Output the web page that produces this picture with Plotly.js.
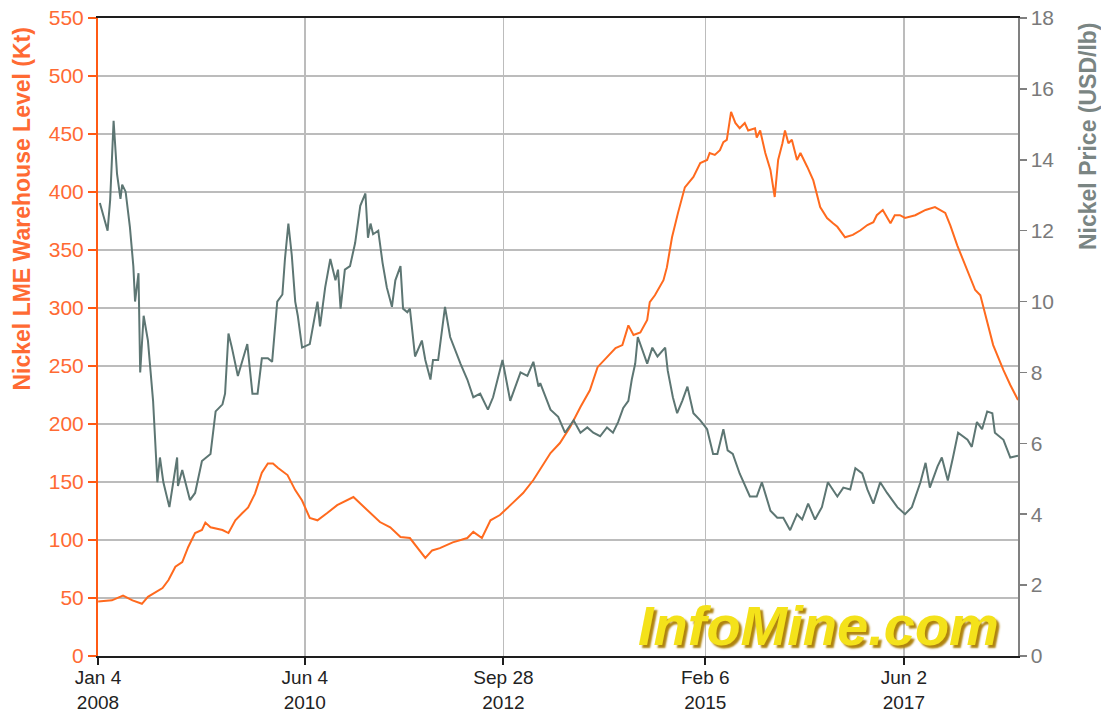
<!DOCTYPE html>
<html>
<head>
<meta charset="utf-8">
<script src="https://cdn.plot.ly/plotly-3.0.1.min.js"></script>
<style>html,body{margin:0;padding:0;background:#fff;}#chart{width:1101px;height:719px;}</style>
</head>
<body>
<div id="chart"></div>
<script>
// Nickel LME warehouse level (Kt) — time in decimal years
const stockYear = [2008.01,2008.17,2008.30,2008.41,2008.52,2008.59,2008.76,2008.83,2008.91,2008.99,2009.06,2009.14,2009.22,2009.26,2009.32,2009.46,2009.53,2009.61,2009.69,2009.76,2009.84,2009.92,2009.99,2010.05,2010.11,2010.22,2010.31,2010.39,2010.48,2010.57,2010.68,2010.80,2010.99,2011.05,2011.15,2011.30,2011.42,2011.54,2011.65,2011.73,2011.83,2011.91,2012.00,2012.15,2012.32,2012.39,2012.49,2012.59,2012.70,2012.85,2012.97,2013.09,2013.29,2013.40,2013.52,2013.64,2013.75,2013.84,2013.95,2014.05,2014.13,2014.20,2014.26,2014.34,2014.42,2014.45,2014.51,2014.61,2014.65,2014.71,2014.78,2014.86,2014.96,2015.04,2015.12,2015.15,2015.21,2015.27,2015.31,2015.35,2015.40,2015.45,2015.50,2015.56,2015.60,2015.68,2015.70,2015.74,2015.80,2015.86,2015.91,2015.95,2016.00,2016.03,2016.07,2016.11,2016.17,2016.21,2016.29,2016.36,2016.44,2016.52,2016.59,2016.64,2016.73,2016.82,2016.91,2016.99,2017.06,2017.10,2017.17,2017.26,2017.31,2017.37,2017.43,2017.55,2017.67,2017.78,2017.90,2017.96,2018.04,2018.13,2018.25,2018.31,2018.37,2018.46,2018.58,2018.66,2018.75];
const stockKt = [47,48,52,48,45,51,58.6,65.5,77,81,94,106,108.6,115,111,108.6,106,117,123,128,140,158,166,166,162,156,143,134,119,117,123,130,137,133,126,115.5,111,102.6,101.7,94,84.5,91,93,98,101.7,107,101.7,117,121.5,132,140.5,151.7,175,183.6,197.4,214.6,229,249,258,265.5,268,285,276.7,279,289.7,305,311,324,335,361,382,404,413,425,427.6,433.6,432,436,443,445,469,459.5,455,459.5,453,455,447,453,433.6,419,395.7,427.6,442,453,442,445,427.6,433.6,421.6,410,387,377.6,373,370,361,363,367,371.5,374,380,384.5,373,380,380,377.6,380,384.5,387,382,371,354,337,315.5,311,294,268,246.5,233.6,220.7];

// Nickel price (USD/lb) — time in decimal years
const priceYear = [2008.03,2008.12,2008.15,2008.19,2008.23,2008.27,2008.29,2008.33,2008.38,2008.42,2008.44,2008.48,2008.50,2008.54,2008.59,2008.65,2008.70,2008.73,2008.77,2008.84,2008.93,2008.94,2008.99,2009.08,2009.14,2009.22,2009.32,2009.38,2009.46,2009.49,2009.53,2009.57,2009.64,2009.75,2009.81,2009.87,2009.92,2009.99,2010.04,2010.10,2010.16,2010.19,2010.23,2010.27,2010.31,2010.34,2010.39,2010.48,2010.57,2010.60,2010.66,2010.72,2010.78,2010.81,2010.84,2010.89,2010.95,2011.01,2011.07,2011.13,2011.16,2011.19,2011.22,2011.28,2011.33,2011.38,2011.44,2011.48,2011.54,2011.57,2011.62,2011.65,2011.71,2011.79,2011.83,2011.89,2011.92,2011.98,2012.06,2012.12,2012.24,2012.32,2012.39,2012.47,2012.56,2012.62,2012.73,2012.82,2012.94,2013.02,2013.09,2013.15,2013.17,2013.29,2013.38,2013.46,2013.56,2013.64,2013.72,2013.79,2013.87,2013.95,2014.02,2014.08,2014.14,2014.20,2014.24,2014.28,2014.31,2014.36,2014.42,2014.48,2014.54,2014.63,2014.66,2014.72,2014.77,2014.83,2014.89,2014.96,2015.00,2015.04,2015.12,2015.19,2015.24,2015.31,2015.36,2015.42,2015.50,2015.62,2015.70,2015.76,2015.86,2015.94,2016.01,2016.09,2016.17,2016.23,2016.30,2016.38,2016.46,2016.53,2016.64,2016.71,2016.79,2016.85,2016.93,2016.99,2017.06,2017.14,2017.22,2017.34,2017.43,2017.51,2017.61,2017.67,2017.72,2017.81,2017.86,2017.93,2017.99,2018.05,2018.16,2018.21,2018.27,2018.33,2018.39,2018.45,2018.48,2018.58,2018.66,2018.75];
const priceUsd = [12.78,12.0,12.87,15.1,13.6,12.9,13.3,13.1,12.1,11.0,10.0,10.8,8.0,9.6,8.9,7.2,4.9,5.6,4.9,4.2,5.6,4.8,5.25,4.4,4.6,5.5,5.7,6.9,7.1,7.4,9.1,8.7,7.9,8.8,7.4,7.4,8.4,8.4,8.3,10.0,10.2,11.2,12.2,11.3,10.0,9.6,8.7,8.8,10.0,9.3,10.4,11.2,10.6,10.9,9.8,10.9,11.0,11.65,12.7,13.05,11.8,12.2,11.9,12.0,11.1,10.4,9.85,10.6,11.0,9.8,9.7,9.8,8.45,8.9,8.35,7.8,8.35,8.35,9.85,9.0,8.25,7.8,7.3,7.4,6.95,7.3,8.35,7.2,8.0,7.9,8.3,7.6,7.7,6.95,6.75,6.3,6.65,6.3,6.45,6.3,6.2,6.45,6.3,6.6,7.0,7.2,7.8,8.25,9.0,8.65,8.25,8.7,8.45,8.7,8.05,7.3,6.85,7.2,7.6,6.85,6.75,6.65,6.4,5.7,5.7,6.4,5.8,5.7,5.15,4.5,4.5,4.9,4.1,3.9,3.9,3.55,4.0,3.85,4.3,3.85,4.2,4.9,4.5,4.75,4.7,5.3,5.15,4.7,4.3,4.9,4.6,4.2,4.0,4.2,4.9,5.45,4.75,5.35,5.6,4.95,5.6,6.3,6.1,5.9,6.6,6.4,6.9,6.85,6.3,6.1,5.6,5.65];

const tickDates = ['2008-01-04','2010-06-04','2012-09-28','2015-02-06','2017-06-02'];
const tickLabels = ['Jan 4<br>2008','Jun 4<br>2010','Sep 28<br>2012','Feb 6<br>2015','Jun 2<br>2017'];

function decToDate(t){
  const y = Math.floor(t);
  const a = Date.UTC(y,0,1), b = Date.UTC(y+1,0,1);
  return new Date(a + (t - y) * (b - a)).toISOString().slice(0,19).replace('T',' ');
}

const orange = '#ff6a1e';
const slate = '#5d7673';

const traces = [
  {x: stockYear.map(decToDate), y: stockKt, type:'scatter', mode:'lines',
   line:{color:orange, width:2}, yaxis:'y', hoverinfo:'x+y'},
  {x: priceYear.map(decToDate), y: priceUsd, type:'scatter', mode:'lines',
   line:{color:slate, width:2}, yaxis:'y2', hoverinfo:'x+y'}
];

const font = 'Liberation Sans, Arial, sans-serif';
const layout = {
  width:1101, height:719,
  margin:{l:98, r:83, t:18, b:63},
  paper_bgcolor:'#ffffff', plot_bgcolor:'#ffffff',
  showlegend:false,
  font:{family:font, size:21, color:'#222'},
  xaxis:{
    type:'date', range:['2008-01-04', decToDate(2018.75)],
    tickmode:'array', tickvals:tickDates, ticktext:tickLabels,
    showgrid:true, gridcolor:'#bcbcbc', gridwidth:1.5,
    showline:true, linecolor:'#1e1e1e', linewidth:2, mirror:true,
    ticks:'outside', ticklen:7, tickcolor:'#1e1e1e', tickwidth:2,
    ticklabelstandoff:-4,
    tickfont:{family:font, size:19, color:'#222'},
    zeroline:false, fixedrange:true
  },
  yaxis:{
    range:[0,550], tickmode:'linear', tick0:0, dtick:50,
    showgrid:true, gridcolor:'#bcbcbc', gridwidth:1.5,
    showline:true, linecolor:'#ff5a14', linewidth:2,
    ticks:'outside', ticklen:8, tickcolor:'#ff5a14', tickwidth:1.5,
    tickfont:{family:font, size:21, color:'#ff6a33'},
    zeroline:false, fixedrange:true
  },
  yaxis2:{
    range:[0,18], tickmode:'linear', tick0:0, dtick:2,
    overlaying:'y', side:'right', showgrid:false,
    showline:true, linecolor:'#808080', linewidth:1.5,
    ticks:'outside', ticklen:7, tickcolor:'#808080', tickwidth:1.5,
    tickfont:{family:font, size:21, color:'#7a7a7a'},
    zeroline:false, fixedrange:true
  },
  annotations:[
    {text:'Nickel LME Warehouse Level (Kt)', xref:'paper', yref:'paper',
     x:(22-98)/920, y:(656-26)/638, xanchor:'center', yanchor:'top', textangle:-90,
     showarrow:false, font:{family:font, size:23, color:'#ff6a33', weight:'bold'}},
    {text:'Nickel Price (USD/lb)', xref:'paper', yref:'paper',
     x:(1088-98)/920, y:(656-20)/638, xanchor:'center', yanchor:'top', textangle:-90,
     showarrow:false, font:{family:font, size:23, color:'#7a8583', weight:'bold'}},
    {text:'<b><i>InfoMine.com</i></b>', xref:'paper', yref:'paper',
     x:(818-98)/920, y:(656-625)/638, xanchor:'center', yanchor:'middle',
     showarrow:false,
     font:{family:font, size:56, color:'#f4e21a', shadow:'3px 3px 2px #b0840e'}}
  ]
};

Plotly.newPlot('chart', traces, layout, {displayModeBar:false, staticPlot:true});
</script>
</body>
</html>
